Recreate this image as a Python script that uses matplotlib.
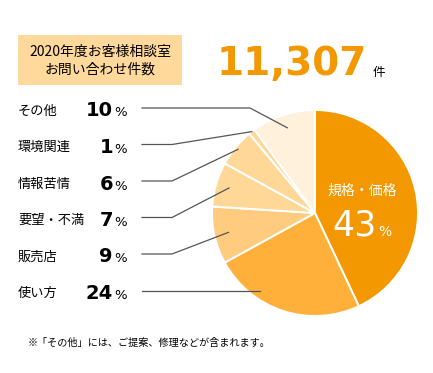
import numpy as np
import matplotlib
matplotlib.use('Agg')
from matplotlib import pyplot as plt
from matplotlib.patches import Rectangle

plt.rcParams['font.family'] = ['Noto Sans CJK JP', 'DejaVu Sans']

# データ（時計回り、上から）
categories = ['規格・価格', '使い方', '販売店', '要望・不満', '情報苦情', '環境関連', 'その他']
values = [43, 24, 9, 7, 6, 1, 10]
colors = ['#F39800', '#FFB03B', '#FFCB7E', '#FFD898', '#FFD898', '#FFD898', '#FFF1DB']
total_count = '11,307'
title_lines = ['2020年度お客様相談室', 'お問い合わせ件数']
note = '※「その他」には、ご提案、修理などが含まれます。'

# 左側ラベルの並び順（上から）
label_order = ['その他', '環境関連', '情報苦情', '要望・不満', '販売店', '使い方']
anchor_r = [0.87, 1.0, 0.97, 0.87, 0.86, 0.92]

W, H = 433, 373
fig = plt.figure(figsize=(W / 100, H / 100), dpi=100)
ax = fig.add_axes([0, 0, 1, 1])

def Y(y):
    return H - y

cx, cy, R = 315, 213, 103
ax.pie(values, colors=colors, startangle=90, counterclock=False,
       center=(cx, Y(cy)), radius=R,
       wedgeprops=dict(edgecolor='white', linewidth=1.4))
ax.set_xlim(0, W)
ax.set_ylim(0, H)
ax.set_aspect('equal')
ax.axis('off')

# タイトルボックス
ax.add_patch(Rectangle((18, Y(85)), 164, 50, facecolor='#FFD99B', edgecolor='none'))
ax.text(100, Y(52), title_lines[0], ha='center', va='center', fontsize=10)
ax.text(100, Y(70), title_lines[1], ha='center', va='center', fontsize=10)

# 総件数
ax.text(367, Y(75), total_count, ha='right', va='baseline', fontsize=28,
        fontweight='bold', color='#F39800', family='DejaVu Sans')
ax.text(373, Y(76), '件', ha='left', va='baseline', fontsize=9)

# 円内ラベル
ax.text(362, Y(191), categories[0], ha='center', va='center', fontsize=10, color='white')
ax.text(377, Y(236), str(values[0]), ha='right', va='baseline', fontsize=25,
        color='white', family='DejaVu Sans')
ax.text(378, Y(236), '%', ha='left', va='baseline', fontsize=10, color='white',
        family='DejaVu Sans')

# 左側ラベルと引き出し線
frac = np.array(values) / sum(values)
cum = np.concatenate([[0], np.cumsum(frac)[:-1]])
mid_deg = 90 - 360 * (cum + frac / 2)
row0, step = 111, 36.5
for i, name in enumerate(label_order):
    k = categories.index(name)
    ty = row0 + i * step
    ax.text(18, Y(ty), name, ha='left', va='center', fontsize=9.5)
    ax.text(113, Y(ty + 5.5), str(values[k]), ha='right', va='baseline', fontsize=14,
            fontweight='bold', family='DejaVu Sans')
    ax.text(114, Y(ty + 5.5), '%', ha='left', va='baseline', fontsize=9.5,
            family='DejaVu Sans')
    ly = ty - 3
    r = anchor_r[i] * R
    if name == '使い方':
        ex = cx - np.sqrt(r ** 2 - (ly - cy) ** 2)
        ax.plot([142, ex], [Y(ly), Y(ly)], color='#555555', lw=0.9)
        continue
    th = np.radians(mid_deg[k])
    ex, ey = cx + r * np.cos(th), cy - r * np.sin(th)
    elbow = 250 if name == 'その他' else 172
    ax.plot([142, elbow, ex], [Y(ly), Y(ly), Y(ey)], color='#555555', lw=0.9)

ax.text(28, Y(343), note, ha='left', va='center', fontsize=7.3)

fig.savefig('out.png', dpi=100)
